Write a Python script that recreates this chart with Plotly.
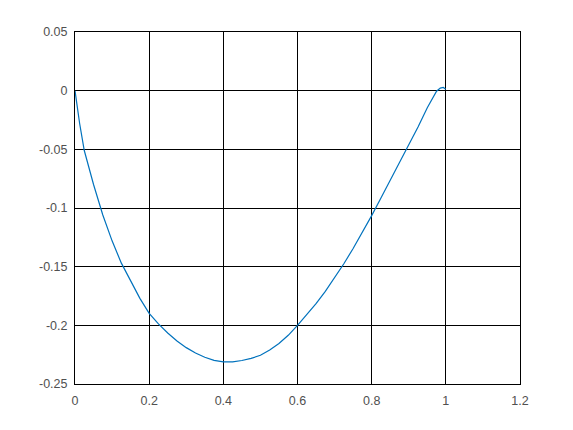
import plotly.graph_objects as go

x_vals = [0.0, 0.0125, 0.025, 0.05, 0.075, 0.1, 0.125, 0.15, 0.175, 0.2, 0.225, 0.25,
          0.275, 0.3, 0.325, 0.35, 0.375, 0.4, 0.425, 0.45, 0.475, 0.5, 0.525, 0.55,
          0.575, 0.6, 0.625, 0.65, 0.675, 0.7, 0.725, 0.75, 0.775, 0.8, 0.825, 0.85,
          0.875, 0.9, 0.925, 0.95, 0.965, 0.975, 0.985, 0.993, 1.0]
y_vals = [0.0, -0.028, -0.051, -0.080, -0.106, -0.128, -0.147, -0.1625, -0.177, -0.1898,
          -0.1988, -0.2065, -0.2133, -0.219, -0.2236, -0.2272, -0.2298, -0.2312, -0.2312,
          -0.2300, -0.2282, -0.2255, -0.2210, -0.2155, -0.2085, -0.2000, -0.1912, -0.1815,
          -0.1710, -0.1595, -0.1475, -0.1345, -0.1207, -0.1065, -0.0915, -0.0765, -0.0615,
          -0.0465, -0.0310, -0.0145, -0.0055, -0.0005, 0.0022, 0.0027, 0.0012]

x_ticks = [0, 0.2, 0.4, 0.6, 0.8, 1, 1.2]
x_tick_text = ["0", "0.2", "0.4", "0.6", "0.8", "1", "1.2"]
y_ticks = [-0.25, -0.2, -0.15, -0.1, -0.05, 0, 0.05]
y_tick_text = ["-0.25", "-0.2", "-0.15", "-0.1", "-0.05", "0", "0.05"]

fig = go.Figure()
fig.add_trace(go.Scatter(x=x_vals, y=y_vals, mode="lines",
                         line=dict(color="#0072BD", width=1.2),
                         showlegend=False))

axis_common = dict(showline=True, linecolor="black", linewidth=1, mirror=True,
                   showgrid=True, gridcolor="black", gridwidth=1, zeroline=False,
                   ticks="", automargin=False,
                   tickfont=dict(family="Liberation Sans, Arial, sans-serif",
                                 size=12.5, color="#505050"))

fig.update_xaxes(range=[0, 1.2], tickvals=x_ticks, ticktext=x_tick_text,
                 ticklabelstandoff=5, **axis_common)
fig.update_yaxes(range=[-0.25, 0.05], tickvals=y_ticks, ticktext=y_tick_text,
                 ticklabelstandoff=4, **axis_common)

fig.update_layout(width=573, height=430, margin=dict(l=67, r=61, t=24, b=54),
                  plot_bgcolor="white", paper_bgcolor="white")

fig.write_html("out.html")
